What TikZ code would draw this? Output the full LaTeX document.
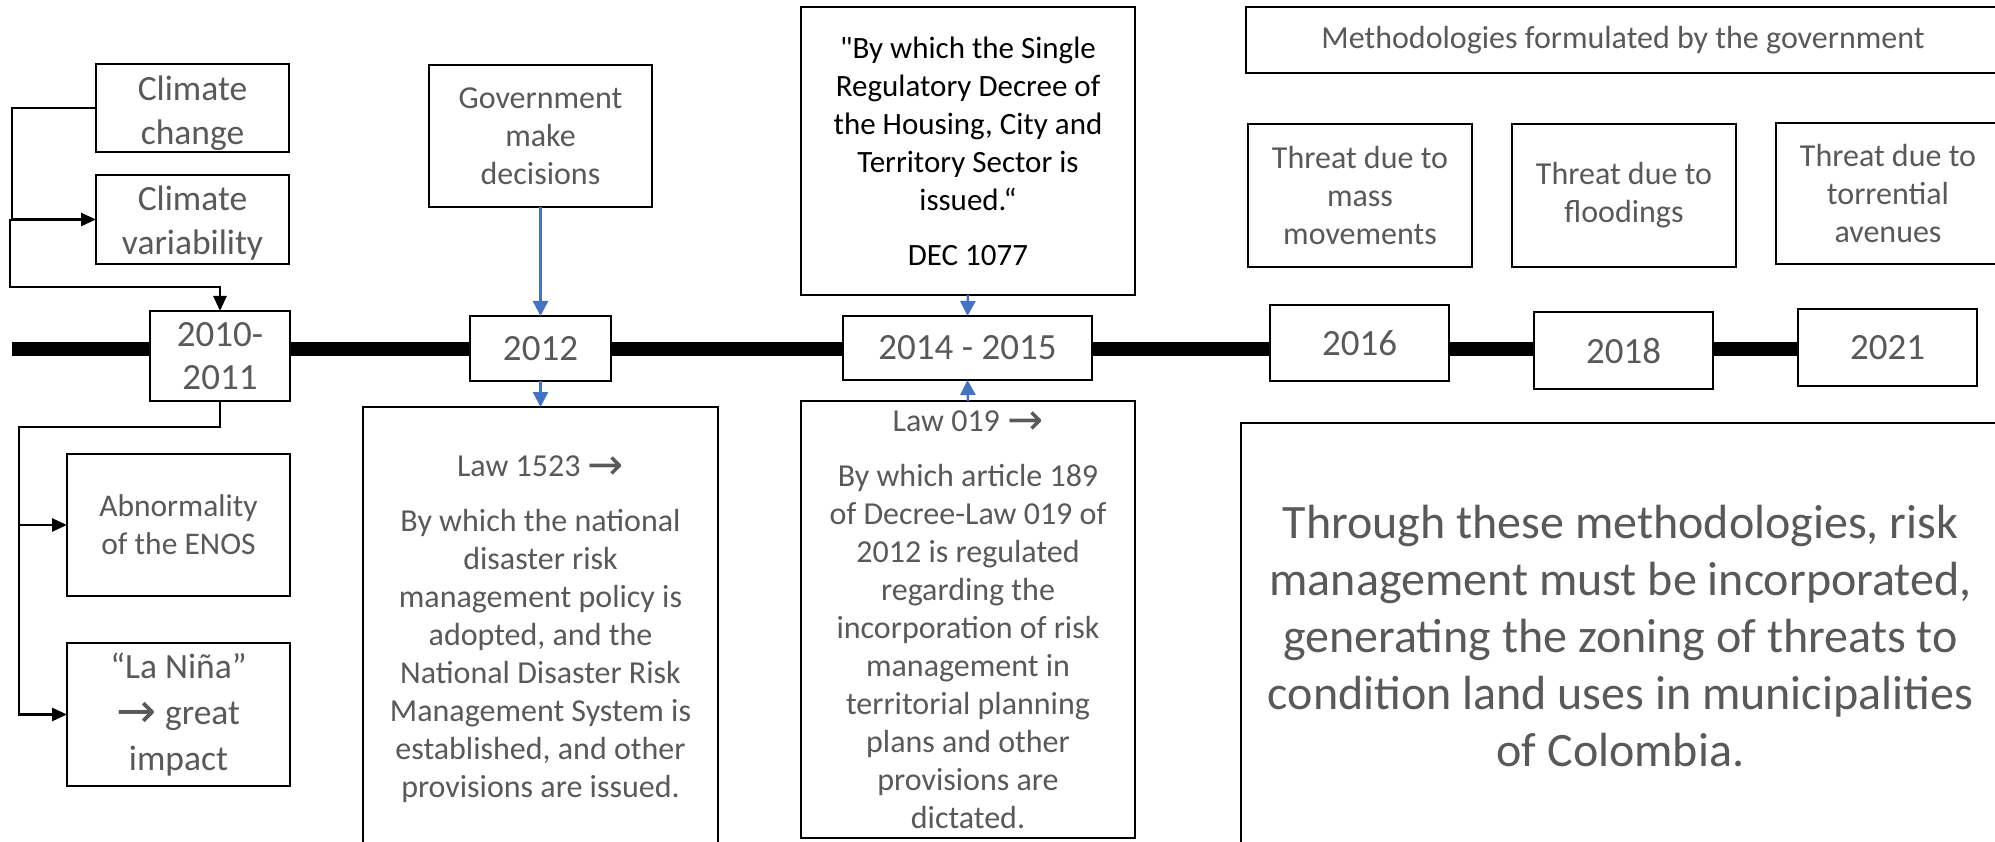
\documentclass[tikz,border=0pt]{standalone}
\usepackage{fontspec}
\setmainfont{Carlito}
\newfontfamily\arrowfont{DejaVu Sans}
\newfontfamily\qfont[Ligatures=TeXOff]{Carlito}
\usetikzlibrary{arrows.meta,backgrounds}
\definecolor{tgray}{RGB}{89,89,89}
\definecolor{blueA}{RGB}{68,114,196}
\newcommand{\rarr}{{\arrowfont\raisebox{-0.1em}{\scalebox{1.35}{→}}}}
\begin{document}
\begin{tikzpicture}[x=1pt,y=-1pt,
  box/.style={draw=black, line width=2.6pt, fill=white, align=center, inner sep=0pt, outer sep=0pt, text=tgray},
  fA/.style={font=\fontsize{35.5}{44}\selectfont},
  fN/.style={font=\fontsize{35.5}{46}\selectfont},
  fY/.style={font=\fontsize{37}{43}\selectfont},
  fB/.style={font=\fontsize{32}{38}\selectfont},
  fD/.style={font=\fontsize{31}{38}\selectfont},
  fL/.style={font=\fontsize{48}{57}\selectfont},
  conn/.style={draw=black, line width=2.6pt, -{Triangle[length=15pt,width=13pt]}},
  barrow/.style={draw=blueA, line width=2.5pt, -{Triangle[length=15pt,width=15pt]}},
  bar/.style={draw=black, line width=14pt}
]
\useasboundingbox (0,0) rectangle (1995,842);

% left column
\node[box,minimum width=193pt,minimum height=88pt,
  label={[fA,text=tgray,align=center,yshift=-5pt]center:Climate\\change}] (cc) at (192.5,108) {};
\node[box,minimum width=193pt,minimum height=89pt,
  label={[fA,text=tgray,align=center,yshift=-4pt]center:Climate\\variability}] (cv) at (192.5,219.5) {};
\node[box,fY,minimum width=140pt,minimum height=90pt] (y2010) at (220,356) {2010-\\2011};
\node[box,font=\fontsize{31.5}{38}\selectfont,minimum width=223pt,minimum height=142pt] (abn) at (178.5,525) {Abnormality\\of the ENOS};
\node[box,fN,minimum width=223pt,minimum height=143pt] (nina) at (178.5,714.5) {“La Niña”\\\rarr{} great\\impact};

% 2012 column
\node[box,fB,minimum width=223pt,minimum height=142pt] (gov) at (540.5,136) {Government\\make\\decisions};
\node[box,fY,minimum width=141pt,minimum height=65pt] (y2012) at (540.5,348.5) {2012};
\node[box,fB,minimum width=355pt,minimum height=444pt] (law1523) at (540.5,629) {Law 1523 \rarr\\[17pt]By which the national\\disaster risk\\management policy is\\adopted, and the\\National Disaster Risk\\Management System is\\established, and other\\provisions are issued.};

% 2014-2015 column
\node[box,fD,text=black,minimum width=334pt,minimum height=288pt] (decree) at (968,151) {{\qfont"}By which the Single\\Regulatory Decree of\\the Housing, City and\\Territory Sector is\\issued.“\\[17pt]DEC 1077};
\node[box,fY,minimum width=249pt,minimum height=64pt] (y2014) at (967.5,348) {2014 - 2015};
\node[box,fB,minimum width=334pt,minimum height=437pt] (law019) at (968,619.5) {Law 019 \rarr\\[17pt]By which article 189\\of Decree-Law 019 of\\2012 is regulated\\regarding the\\incorporation of risk\\management in\\territorial planning\\plans and other\\provisions are\\dictated.};

% right part
\node[box,fB,minimum width=754pt,minimum height=66pt] (meth) at (1623,40) {Methodologies formulated by the government};
\node[box,fB,minimum width=224pt,minimum height=143pt] (t1) at (1360,195.5) {Threat due to\\mass\\movements};
\node[box,fB,minimum width=224pt,minimum height=143pt] (t2) at (1624,195.5) {Threat due to\\floodings};
\node[box,fB,minimum width=224pt,minimum height=141pt] (t3) at (1888,193.5) {Threat due to\\torrential\\avenues};
\node[box,fY,minimum width=179pt,minimum height=76pt] (y2016) at (1359.5,343) {2016};
\node[box,fY,minimum width=179pt,minimum height=77pt] (y2018) at (1623.5,350.5) {2018};
\node[box,fY,minimum width=179pt,minimum height=77pt] (y2021) at (1887.5,347.5) {2021};
\node[box,fL,minimum width=759pt,minimum height=426pt] (big) at (1620.5,636) {Through these methodologies, risk\\management must be incorporated,\\generating the zoning of threats to\\condition land uses in municipalities\\of Colombia.};

% timeline bar
\coordinate (tlstart) at (12,349);
\begin{pgfonlayer}{background}
\draw[bar] (tlstart) -- (tlstart -| y2021.west);
\end{pgfonlayer}

% left connectors
\draw[conn] (cc.west) -- ++(-84,0) |- (cv.west);
\coordinate (j1) at (10,219.5);
\coordinate (k1) at (10,287);
\draw[conn] (j1) -- (k1) -| (y2010.north);
\coordinate (k2) at (19,427);
\draw[conn] (y2010.south) |- (k2) |- (nina.west);
\draw[conn] (abn.west -| k2) -- (abn.west);

% blue arrows
\draw[barrow] (gov.south) -- (y2012.north);
\draw[barrow] (y2012.south) -- (law1523.north);
\draw[barrow] (decree.south) -- (y2014.north);
\draw[barrow] (law019.north) -- (y2014.south);
\end{tikzpicture}
\end{document}
